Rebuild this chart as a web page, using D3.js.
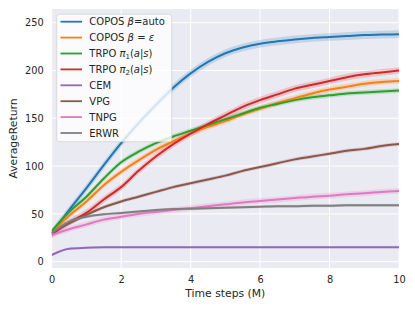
<!DOCTYPE html>
<html>
<head>
<meta charset="utf-8">
<script src="https://cdn.jsdelivr.net/npm/d3@7"></script>
<style>
  body { margin: 0; background: #fff; }
  text { font-family: "DejaVu Sans", sans-serif; fill: #262626; }
</style>
</head>
<body>
<svg class="chart" width="415" height="310"></svg>
<script>
// time steps (M), one point every 0.5M
const steps = d3.range(0, 10.01, 0.5);

const coposAuto = [30, 54, 77, 101, 124, 145, 164, 182, 197, 209, 218, 224, 228, 230.5, 232.5, 234, 235, 236, 237, 237.5, 238];
const coposEps  = [30, 48, 63, 80, 94, 106, 117, 126, 134, 141, 147, 154, 160, 166, 171, 176, 180, 183, 186, 188, 189];
const trpoPi1   = [32, 52, 68, 87, 104, 115, 124, 131, 137, 143, 149, 155, 161, 165, 169, 172, 174, 176, 177, 178, 179];
const trpoPi2   = [28, 41, 51, 65, 78, 95, 110, 123, 134, 144, 153, 162, 169, 175, 181, 185, 189, 193, 196, 198, 200];
const cem       = [7, 13.5, 14.5, 15, 15, 15, 15, 15, 15, 15, 15, 15, 15, 15, 15, 15, 15, 15, 15, 15, 15];
const vpg       = [30, 40, 49, 57, 63, 68, 73, 78, 82, 86, 90, 95, 99, 103, 107, 110, 113, 116, 118, 121, 123];
const tnpg      = [28, 34, 39, 44, 47, 50, 52, 54, 56, 58, 60, 62, 63.5, 65, 66.5, 68, 69, 70.5, 71.5, 73, 74];
const erwr      = [30, 42, 47, 49.5, 51, 52.5, 54, 55, 55.5, 56, 56.5, 57, 57.5, 58, 58, 58.5, 58.5, 59, 59, 59, 59];

// half width of the shaded spread per method
const spread = [4, 3, 2.5, 3.5, 1, 2, 3, 1.5];

const colors = ["#1f77b4", "#ff7f0e", "#2ca02c", "#d62728", "#9467bd", "#8c564b", "#e377c2", "#7f7f7f"];
const allSeries = [coposAuto, coposEps, trpoPi1, trpoPi2, cem, vpg, tnpg, erwr];

const xTicks = [0, 2, 4, 6, 8, 10];
const yTicks = [0, 50, 100, 150, 200, 250];

const svg = d3.select(".chart");
const mLeft = 51.7, mRight = 399, mTop = 9, mBottom = 268;

const x = d3.scaleLinear().domain([0, 10]).range([mLeft, mRight]);
const y = d3.scaleLinear().domain([-6.6, 264.3]).range([mBottom, mTop]);

// background
svg.append("rect")
  .attr("x", mLeft).attr("y", mTop)
  .attr("width", mRight - mLeft).attr("height", mBottom - mTop)
  .attr("fill", "#eaeaf2");

// grid
svg.append("g")
  .selectAll("line")
  .data(xTicks)
  .enter()
  .append("line")
  .attr("x1", (d) => x(d)).attr("x2", (d) => x(d))
  .attr("y1", mTop).attr("y2", mBottom)
  .attr("stroke", "#fff").attr("stroke-width", 1);

svg.append("g")
  .selectAll("line")
  .data(yTicks)
  .enter()
  .append("line")
  .attr("x1", mLeft).attr("x2", mRight)
  .attr("y1", (d) => y(d)).attr("y2", (d) => y(d))
  .attr("stroke", "#fff").attr("stroke-width", 1);

// axes (labels only, no tick marks)
const xAxis = d3.axisBottom(x).tickValues(xTicks).tickSize(0).tickPadding(8);
const gx = svg.append("g").attr("transform", `translate(0,${mBottom})`).call(xAxis);
gx.select(".domain").remove();
gx.selectAll("text").style("font-size", "9.8px").style("font-family", "DejaVu Sans").attr("fill", "#262626");

const yAxis = d3.axisLeft(y).tickValues(yTicks).tickSize(0).tickPadding(8);
const gy = svg.append("g").attr("transform", `translate(${mLeft},0)`).call(yAxis);
gy.select(".domain").remove();
gy.selectAll("text").style("font-size", "9.8px").style("font-family", "DejaVu Sans").attr("fill", "#262626");

svg.append("text")
  .attr("x", (mLeft + mRight) / 2).attr("y", 297)
  .attr("text-anchor", "middle")
  .style("font-size", "10.8px")
  .text("Time steps (M)");

svg.append("text")
  .attr("transform", `translate(17,${(mTop + mBottom) / 2}) rotate(-90)`)
  .attr("text-anchor", "middle")
  .style("font-size", "10.8px")
  .text("AverageReturn");

// clip
svg.append("clipPath").attr("id", "clip")
  .append("rect").attr("x", mLeft).attr("y", mTop)
  .attr("width", mRight - mLeft).attr("height", mBottom - mTop);

const plot = svg.append("g").attr("clip-path", "url(#clip)");

const area = d3.area()
  .curve(d3.curveMonotoneX)
  .x((d) => x(d.t))
  .y0((d) => y(d.v - d.s))
  .y1((d) => y(d.v + d.s));

const line = d3.line()
  .curve(d3.curveMonotoneX)
  .x((d) => x(d.t))
  .y((d) => y(d.v));

const data = allSeries.map((vals, i) =>
  vals.map((v, j) => ({ t: steps[j], v: v, s: spread[i] }))
);

plot.selectAll(".band")
  .data(data)
  .enter()
  .append("path")
  .attr("class", "band")
  .attr("d", area)
  .attr("fill", (d, i) => colors[i])
  .attr("opacity", 0.2);

plot.selectAll(".line")
  .data(data)
  .enter()
  .append("path")
  .attr("class", "line")
  .attr("d", line)
  .attr("fill", "none")
  .attr("stroke", (d, i) => colors[i])
  .attr("stroke-width", 2);

// legend
const legend = svg.append("g");
legend.append("rect")
  .attr("x", 56.7).attr("y", 14.3)
  .attr("width", 115).attr("height", 127.4)
  .attr("rx", 2.5)
  .attr("fill", "#fff").attr("fill-opacity", 0.8)
  .attr("stroke", "#cccccc").attr("stroke-opacity", 0.8)
  .attr("stroke-width", 0.8);

const rowY = (i) => 21.7 + i * 15.9;

legend.selectAll(".lh")
  .data(colors)
  .enter()
  .append("line")
  .attr("x1", 60.5).attr("x2", 82)
  .attr("y1", (d, i) => rowY(i)).attr("y2", (d, i) => rowY(i))
  .attr("stroke", (d) => d)
  .attr("stroke-width", 1.8);

const labelParts = [
  [["COPOS ", ""], ["β", "i"], ["=auto", ""]],
  [["COPOS ", ""], ["β", "i"], [" = ", ""], ["ε", "i"]],
  [["TRPO ", ""], ["π", "i"], ["1", "sub"], ["(", ""], ["a", "i"], ["|", ""], ["s", "i"], [")", ""]],
  [["TRPO ", ""], ["π", "i"], ["2", "sub"], ["(", ""], ["a", "i"], ["|", ""], ["s", "i"], [")", ""]],
  [["CEM", ""]],
  [["VPG", ""]],
  [["TNPG", ""]],
  [["ERWR", ""]]
];

labelParts.forEach((parts, i) => {
  const t = legend.append("text")
    .attr("x", 89.3).attr("y", rowY(i) + 3.6)
    .style("font-size", "10px")
    .style("white-space", "pre");
  parts.forEach((p, k) => {
    const ts = t.append("tspan").text(p[0]);
    if (p[1] === "i") ts.style("font-style", "italic");
    if (p[1] === "sub") ts.style("font-size", "7px").attr("dy", 2);
    if (k > 0 && parts[k - 1][1] === "sub") ts.attr("dy", -2);
  });
});
</script>
</body>
</html>
